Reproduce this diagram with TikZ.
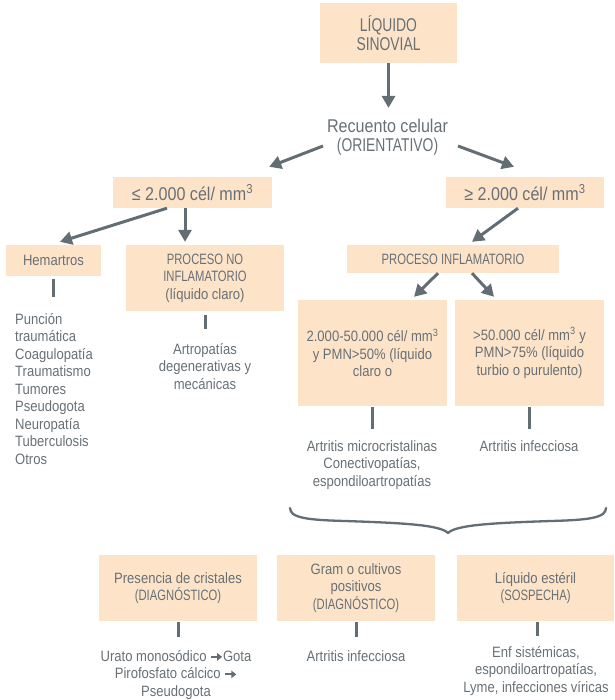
\documentclass[tikz,border=0pt]{standalone}
\usepackage{fontspec}
\setmainfont{Liberation Sans}[FakeStretch=0.87]
\newfontfamily\mayus{Liberation Sans}[FakeStretch=0.75]
\usetikzlibrary{arrows.meta}
\definecolor{durazno}{RGB}{253,228,200}
\definecolor{grisletra}{RGB}{104,112,118}
\definecolor{grisflecha}{RGB}{99,109,116}
% flecha pequena dentro del texto
\newcommand{\flechita}{\tikz[baseline=-0.55ex]\draw[grisflecha, line width=1.8pt, -{Triangle[length=5pt,width=7.5pt]}] (0pt,0pt)--(11pt,0pt);}
\begin{document}
\begin{tikzpicture}[x=1pt, y=-1pt, line join=round,
	caja/.style={fill=durazno, inner sep=0pt, align=center, text=grisletra, font=\fontsize{15}{17.5}\selectfont},
	grande/.style={font=\fontsize{18.5}{19.5}\selectfont},
	texto/.style={inner sep=0pt, text=grisletra, font=\fontsize{15}{17.5}\selectfont},
	flecha/.style={draw=grisflecha, line width=3pt, -{Triangle[length=12pt,width=13pt]}},
	barra/.style={draw=grisflecha, line width=3pt},
	llave/.style={draw=grisflecha, line width=2.3pt, line cap=round}]
	\useasboundingbox (0,0) rectangle (614,700);
	% Cajas
	\node[caja, grande, minimum width=137pt, minimum height=60pt] (sinovial) at (388.5,33) {{\mayus LÍQUIDO}\\{\mayus SINOVIAL}};
	\node[texto, grande, align=center] (recuento) at (387.5,137) {Recuento celular\\{\mayus (ORIENTATIVO)}};
	\node[caja, grande, minimum width=159pt, minimum height=31pt] (menor) at (192.5,192.5) {≤ 2.000 cél/ mm\textsuperscript{3}};
	\node[caja, grande, minimum width=158pt, minimum height=31pt] (mayor) at (525,192.5) {≥ 2.000 cél/ mm\textsuperscript{3}};
	\node[caja, minimum width=95pt, minimum height=31pt] (hem) at (53.5,260.5) {Hemartros};
	\node[caja, minimum width=158pt, minimum height=66pt] (noinfl) at (205,278) {{\mayus PROCESO NO}\\{\mayus INFLAMATORIO}\\(líquido claro)};
	\node[caja, minimum width=212pt, minimum height=28pt] (infl) at (453,259) {\mayus PROCESO INFLAMATORIO};
	\node[caja, minimum width=149pt, minimum height=106pt] (moder) at (372.5,353) {2.000-50.000 cél/ mm\textsuperscript{3}\\y PMN>50\% (líquido\\claro o};
	\node[caja, minimum width=149pt, minimum height=106pt] (sever) at (529.5,353) {>50.000 cél/ mm\textsuperscript{3} y\\PMN>75\% (líquido\\turbio o purulento)};
	\node[caja, minimum width=158pt, minimum height=66pt] (crist) at (178,588) {Presencia de cristales\\{\mayus (DIAGNÓSTICO)}};
	\node[caja, minimum width=158pt, minimum height=66pt] (gram) at (356,588) {Gram o cultivos\\positivos\\{\mayus (DIAGNÓSTICO)}};
	\node[caja, minimum width=157pt, minimum height=66pt] (esteril) at (535.5,588) {Líquido estéril\\{\mayus (SOSPECHA)}};
	% Textos
	\node[texto, align=left, anchor=north west] (hemlista) at (15,313) {Punción\\traumática\\Coagulopatía\\Traumatismo\\Tumores\\Pseudogota\\Neuropatía\\Tuberculosis\\Otros};
	\node[texto, align=center, anchor=north] (artro) at (205,343) {Artropatías\\degenerativas y\\mecánicas};
	\node[texto, align=center, anchor=north] (micro) at (372,440) {Artritis microcristalinas\\Conectivopatías,\\espondiloartropatías};
	\node[texto, align=center, anchor=north] (infec) at (529,440) {Artritis infecciosa};
	\node[texto, align=center, anchor=north] (urato) at (176,650) {Urato monosódico \flechita Gota\\Pirofosfato cálcico \flechita\\Pseudogota};
	\node[texto, align=center, anchor=north] (infecdos) at (356,650) {Artritis infecciosa};
	\node[texto, align=center, anchor=north] (enf) at (536,646) {Enf sistémicas,\\espondiloartropatías,\\Lyme, infecciones víricas};
	% Flechas
	\draw[flecha, shorten >=10.5pt] (sinovial.south) -- (sinovial.south |- recuento.north);
	\draw[flecha] ([shift={(-64.5pt,-9pt)}]recuento.center) -- ([shift={(-3pt,10pt)}]menor.north east);
	\draw[flecha] ([shift={(70.5pt,-9pt)}]recuento.center) -- ([shift={(-11pt,10pt)}]mayor.north);
	\draw[flecha] ([xshift=-25.5pt]menor.south) -- ([shift={(6.5pt,3pt)}]hem.north);
	\draw[flecha] ([xshift=-7.5pt]menor.south) -- ([shift={(-20pt,3pt)}]noinfl.north);
	\draw[flecha] ([xshift=-7pt]mayor.south) -- ([shift={(19pt,3pt)}]infl.north);
	\draw[flecha] ([xshift=-15pt]infl.south) -- ([shift={(41.5pt,3pt)}]moder.north);
	\draw[flecha] ([xshift=19pt]infl.south) -- ([shift={(-35.5pt,3pt)}]sever.north);
	% Barras
	\draw[barra, shorten <=3pt, shorten >=16pt] (hem.south) -- (hem.south |- hemlista.north);
	\draw[barra, shorten <=4pt, shorten >=14pt] (noinfl.south) -- (artro.north);
	\draw[barra, shorten <=1pt, shorten >=11pt] (micro.north |- moder.south) -- (micro.north);
	\draw[barra, shorten <=1pt, shorten >=11pt] (infec.north |- sever.south) -- (infec.north);
	\draw[barra, shorten <=1pt, shorten >=13pt] (crist.south) -- (crist.south |- urato.north);
	\draw[barra, shorten <=1pt, shorten >=13pt] (gram.south) -- (infecdos.north);
	\draw[barra, shorten <=1pt, shorten >=10pt] ([xshift=1.5pt]esteril.south) -- ([xshift=1.5pt]esteril.south |- enf.north);
	% Llave
	\coordinate (llaveizq) at (290,508);
	\coordinate (llavepunta) at (448,533);
	\coordinate (llaveder) at (606,508);
	\draw[llave] (llaveizq) .. controls (290,518) and (308,520) .. (345,521)
		.. controls (405,523) and (440,525) .. (llavepunta)
		.. controls (456,525) and (491,523) .. (551,521)
		.. controls (588,520) and (606,518) .. (llaveder);
\end{tikzpicture}
\end{document}
